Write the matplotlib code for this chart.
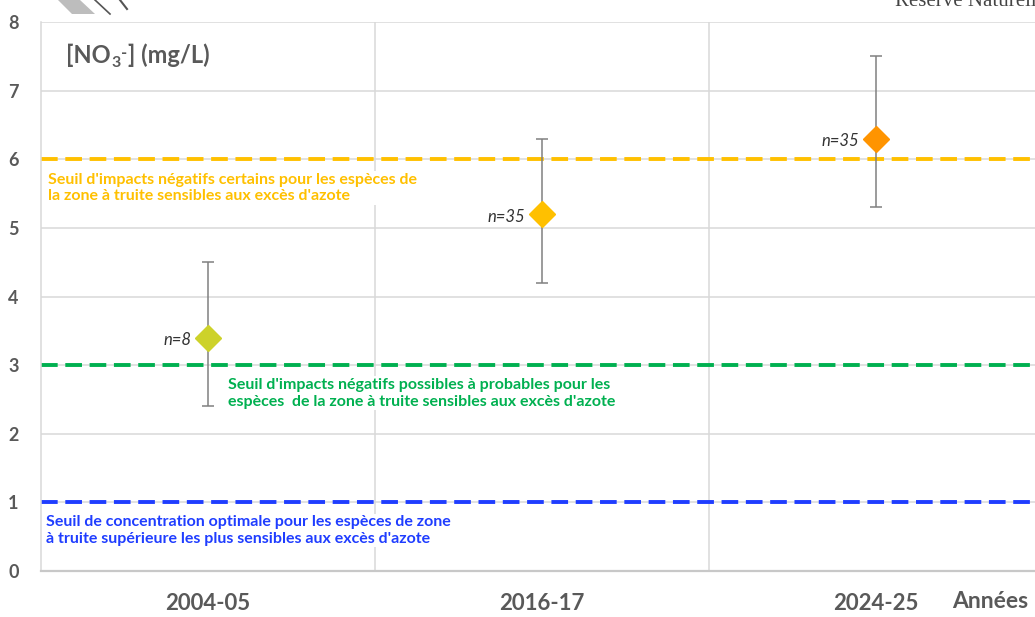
import matplotlib
matplotlib.use("Agg")
import matplotlib.pyplot as plt
from matplotlib.patches import Polygon

plt.rcParams['font.family'] = ['Lato', 'DejaVu Sans']
plt.rcParams['lines.scale_dashes'] = False

# Campagnes de mesure
periodes = ["2004-05", "2016-17", "2024-25"]
moyennes = [3.4, 5.2, 6.3]
bornes_basses = [2.4, 4.2, 5.3]
bornes_hautes = [4.5, 6.3, 7.5]
effectifs = ["n=8", "n=35", "n=35"]
couleurs_points = ["#cdd22a", "#ffc000", "#ff9400"]

# Seuils de référence
seuils = [6, 3, 1]
couleurs_seuils = ["#ffc000", "#00b050", "#1f3dff"]
textes_seuils = [
    "Seuil d'impacts négatifs certains pour les espèces de\nla zone à truite sensibles aux excès d'azote",
    "Seuil d'impacts négatifs possibles à probables pour les\nespèces  de la zone à truite sensibles aux excès d'azote",
    "Seuil de concentration optimale pour les espèces de zone\nà truite supérieure les plus sensibles aux excès d'azote",
]
pos_textes = [(-0.48, 5.58), (0.06, 2.59), (-0.485, 0.59)]

gris = "#595959"

fig = plt.figure(figsize=(10.35, 6.17), dpi=100)
ax = fig.add_axes([41 / 1035, 46 / 617, 1002 / 1035, 549 / 617])

x = range(len(periodes))
ax.set_xlim(-0.5, 2.5)
ax.set_ylim(0, 8)

# grille
for yv in range(1, 9):
    ax.axhline(yv, color="#d9d9d9", lw=1.1, zorder=0)
for xv in [0.5, 1.5]:
    ax.axvline(xv, color="#d9d9d9", lw=1.1, zorder=0)

for s in ["top", "right"]:
    ax.spines[s].set_visible(False)
ax.spines["left"].set_color("#d9d9d9")
ax.spines["left"].set_linewidth(1.1)
ax.spines["bottom"].set_color("#c8c8c8")
ax.spines["bottom"].set_linewidth(1.6)

# seuils
for val, col, txt, (tx, ty) in zip(seuils, couleurs_seuils, textes_seuils, pos_textes):
    ax.axhline(val, color=col, lw=2.8, dashes=(12, 5.5), zorder=2)
    ax.text(tx, ty, txt, color=col, fontsize=11.5, fontweight="bold",
            va="center", ha="left", linespacing=1.25, zorder=3,
            bbox=dict(facecolor="white", edgecolor="none", pad=1))

# moyennes et intervalles
for i in x:
    ax.errorbar(i, moyennes[i],
                yerr=[[moyennes[i] - bornes_basses[i]], [bornes_hautes[i] - moyennes[i]]],
                fmt="none", ecolor="#808080", elinewidth=1.1, capsize=4, capthick=1.1, zorder=4)
    ax.plot(i, moyennes[i], marker="D", markersize=13.5, color=couleurs_points[i],
            markeredgecolor=couleurs_points[i], zorder=5)
    ax.text(i - 0.05, moyennes[i] - 0.04, effectifs[i], style="italic", fontsize=12,
            color="#333333", ha="right", va="center", zorder=5)

ax.set_xticks(list(x))
ax.set_xticklabels(periodes, fontsize=16, fontweight="bold", color=gris)
ax.set_yticks(range(0, 9))
ax.set_yticklabels([str(v) for v in range(0, 9)], fontsize=13, fontweight="bold", color=gris)
ax.tick_params(axis="x", length=0, pad=16)
ax.tick_params(axis="y", length=0, pad=16)

# unité : [NO3-] (mg/L), indice et exposant posés à la suite
style_titre = dict(fontweight="bold", color=gris)
t1 = ax.text(-0.425, 7.35, "[NO", fontsize=17, ha="left", va="bottom", **style_titre)
t2 = ax.annotate("3", xy=(1, 0), xycoords=t1, xytext=(0.5, -2.5), textcoords="offset points",
                 fontsize=11.5, ha="left", va="bottom", **style_titre)
t3 = ax.annotate("-", xy=(1, 1), xycoords=(t2, t1), xytext=(0.3, -1), textcoords="offset points",
                 fontsize=12, ha="left", va="top", **style_titre)
ax.annotate("] (mg/L)", xy=(1, 0), xycoords=(t3, t1), xytext=(0.3, 0), textcoords="offset points",
            fontsize=17, ha="left", va="bottom", **style_titre)

fig.text(990 / 1035, 1 - 601 / 617, "Années", fontsize=16.5, fontweight="bold",
         color=gris, ha="center", va="center")

# logo en haut de page
fig.patches.append(Polygon([[58 / 1035, 1], [80 / 1035, 1], [95 / 1035, 1 - 14 / 617],
                            [72 / 1035, 1 - 14 / 617]], closed=True,
                           transform=fig.transFigure, facecolor="#bdbdbd", edgecolor="none"))
fig.add_artist(plt.Line2D([95 / 1035, 110 / 1035], [1, 1 - 14 / 617], color="#555555",
                          lw=1.2, transform=fig.transFigure))
fig.add_artist(plt.Line2D([120 / 1035, 127 / 1035], [1, 1 - 9 / 617], color="#555555",
                          lw=1.5, transform=fig.transFigure))
fig.text(895 / 1035, 1 - 2 / 617, "Réserve Naturelle", family="Liberation Serif",
         fontsize=15, color="#444444", ha="left", va="center")

fig.savefig("out.png", dpi=100)
